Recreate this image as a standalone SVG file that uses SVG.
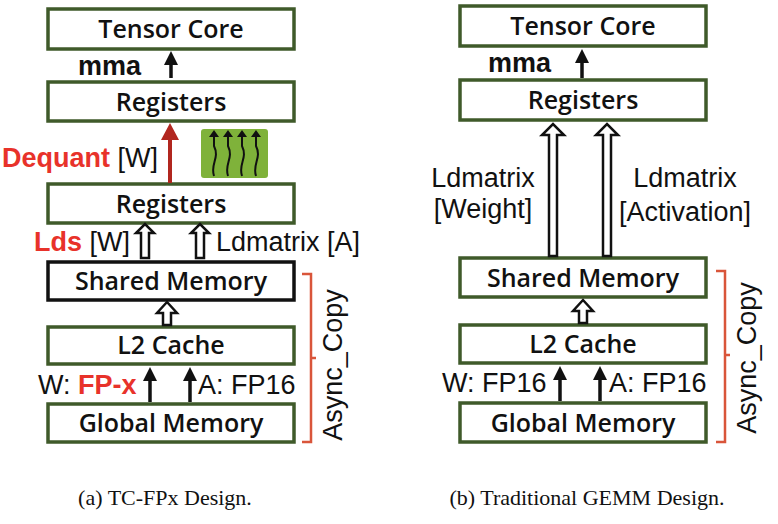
<svg xmlns="http://www.w3.org/2000/svg" width="778" height="524" viewBox="0 0 778 524">
<style>
.box{fill:#fff;stroke:#3f5a2a;stroke-width:3.5}
.bt{font-family:"Open Sans",sans-serif;font-size:25px;font-weight:600;text-anchor:middle;fill:#111}
.lb{font-family:"Liberation Sans",Arial,sans-serif;font-size:27px;fill:#111}
.red{fill:#e8322a;font-weight:bold}
.hol{fill:#fff;stroke:#111;stroke-width:2.5}
.br{fill:none;stroke:#d9553a;stroke-width:2.5}
.cap{font-family:"Liberation Serif",serif;font-size:22px;text-anchor:middle;fill:#111}
</style>
<defs>
<marker id="ah" markerWidth="4" markerHeight="4" refX="2" refY="2" orient="auto"><path d="M0,0L4,2L0,4z" fill="#111"/></marker>
</defs>
<g id="a-tensor"><rect class="box" x="48" y="9" width="246" height="40"/><text class="bt" x="171" y="38">Tensor Core</text></g>
<g id="a-reg1"><rect class="box" x="48" y="82" width="246" height="39"/><text class="bt" x="171" y="111">Registers</text></g>
<g id="a-reg2"><rect class="box" x="48" y="184" width="246" height="39"/><text class="bt" x="171" y="213">Registers</text></g>
<g id="a-smem"><rect x="48" y="262" width="246" height="38" fill="#fff" stroke="#111" stroke-width="3.5"/><text class="bt" x="171" y="290">Shared Memory</text></g>
<g id="a-l2"><rect class="box" x="48" y="327" width="246" height="37"/><text class="bt" x="171" y="354">L2 Cache</text></g>
<g id="a-gmem"><rect class="box" x="48" y="404" width="246" height="38"/><text class="bt" x="171" y="432">Global Memory</text></g>
<g id="a-threads"><rect x="201" y="129" width="67" height="49" rx="3" fill="#7fb23a"/>
<g fill="none" stroke="#111" stroke-width="2"><path d="M214,176c-4,-12 6,-18 0,-30l0,-12"/><path d="M228,176c-4,-12 6,-18 0,-30l0,-12"/><path d="M242,176c-4,-12 6,-18 0,-30l0,-12"/><path d="M256,176c-4,-12 6,-18 0,-30l0,-12"/></g>
<g fill="#111"><path d="M209,137l5,-7l5,7z"/><path d="M223,137l5,-7l5,7z"/><path d="M237,137l5,-7l5,7z"/><path d="M251,137l5,-7l5,7z"/></g></g>
<g id="b-tensor"><rect class="box" x="460" y="6" width="246" height="40"/><text class="bt" x="583" y="35">Tensor Core</text></g>
<g id="b-reg"><rect class="box" x="460" y="80" width="246" height="40"/><text class="bt" x="583" y="109">Registers</text></g>
<g id="b-smem"><rect class="box" x="460" y="258" width="246" height="39"/><text class="bt" x="583" y="287">Shared Memory</text></g>
<g id="b-l2"><rect class="box" x="460" y="325" width="246" height="38"/><text class="bt" x="583" y="353">L2 Cache</text></g>
<g id="b-gmem"><rect class="box" x="460" y="403" width="246" height="39"/><text class="bt" x="583" y="432">Global Memory</text></g>
<g id="connectors">
<line x1="171" y1="78" x2="171" y2="58" stroke="#111" stroke-width="3.5" marker-end="url(#ah)"/>
<path d="M168,183V140H161L170,123L179,140H172V183z" fill="#b1261f"/>
<path class="hol" d="M141,258V233H136L145,224L154,233H149V258z"/>
<path class="hol" d="M196,258V233H191L200,224L209,233H204V258z"/>
<path class="hol" d="M163,325V313H157L167,302L177,313H171V325z"/>
<line x1="150" y1="402" x2="150" y2="374" stroke="#111" stroke-width="3.5" marker-end="url(#ah)"/>
<line x1="190" y1="402" x2="190" y2="374" stroke="#111" stroke-width="3.5" marker-end="url(#ah)"/>
<path class="br" d="M302,274h9v84h5M316,358h-5v84h-9"/>
<line x1="582" y1="78" x2="582" y2="56" stroke="#111" stroke-width="3.5" marker-end="url(#ah)"/>
<path class="hol" d="M549,256V135H542L553,124L564,135H557V256z"/>
<path class="hol" d="M603,256V135H596L607,124L618,135H611V256z"/>
<path class="hol" d="M579,323V311H573L583,300L593,311H587V323z"/>
<line x1="560" y1="401" x2="560" y2="373" stroke="#111" stroke-width="3.5" marker-end="url(#ah)"/>
<line x1="600" y1="401" x2="600" y2="373" stroke="#111" stroke-width="3.5" marker-end="url(#ah)"/>
<path class="br" d="M716,271h9v84h5M730,355h-5v87h-9"/>
</g>
<g id="labels">
<text class="lb" x="78" y="75" font-weight="bold">mma</text>
<text class="lb" x="2" y="167"><tspan class="red">Dequant</tspan> [W]</text>
<text class="lb" x="34" y="251"><tspan class="red">Lds</tspan> [W]</text>
<text class="lb" x="216" y="251">Ldmatrix [A]</text>
<text class="lb" x="38" y="394">W: <tspan class="red">FP-x</tspan></text>
<text class="lb" x="198" y="394">A: FP16</text>
<text class="lb" transform="translate(342,365) rotate(-90)" text-anchor="middle">Async_Copy</text>
<text class="lb" x="488" y="72" font-weight="bold">mma</text>
<text class="lb" x="483" y="187" text-anchor="middle">Ldmatrix</text>
<text class="lb" x="483" y="218" text-anchor="middle">[Weight]</text>
<text class="lb" x="685" y="187" text-anchor="middle">Ldmatrix</text>
<text class="lb" x="685" y="221" text-anchor="middle">[Activation]</text>
<text class="lb" x="442" y="392">W: FP16</text>
<text class="lb" x="609" y="392">A: FP16</text>
<text class="lb" transform="translate(756,358) rotate(-90)" text-anchor="middle">Async_Copy</text>
<text class="cap" x="165" y="505">(a) TC-FPx Design.</text>
<text class="cap" x="587" y="505">(b) Traditional GEMM Design.</text>
</g>
</svg>
